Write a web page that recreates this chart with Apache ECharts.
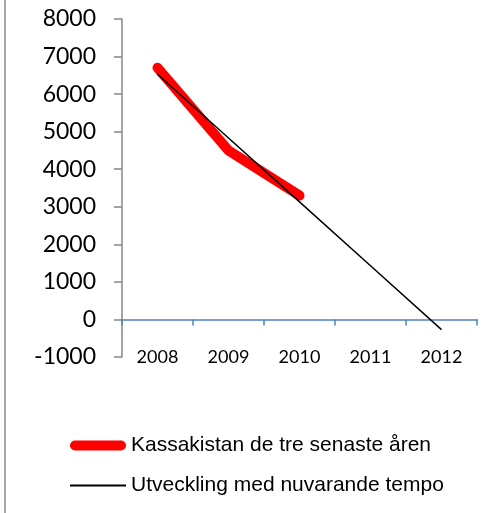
<!DOCTYPE html>
<html>
<head>
<meta charset="utf-8">
<script src="https://cdn.jsdelivr.net/npm/echarts@6/dist/echarts.min.js"></script>
<style>
  html, body { margin: 0; padding: 0; background: #fff; }
  #chart { width: 499px; height: 513px; position: relative; }
  #frame { position: absolute; left: 4px; top: 0; width: 2px; height: 513px; background: #a6a6a6; }
</style>
</head>
<body>
<div id="chart"></div>
<div id="frame"></div>
<script>
const years = ['2008', '2009', '2010', '2011', '2012']
// actual cash balance for the three latest years
const kassakistan = [6700, 4500, 3300, null, null]
// trend at current pace
const utveckling = [6530, 4830, 3130, 1430, -270]
const seriesNames = ['Kassakistan de tre senaste åren', 'Utveckling med nuvarande tempo']

const chart = echarts.init(document.getElementById('chart'))

const legendText = { fontFamily: 'Liberation Sans', fontSize: 21, color: '#000' }

const option = {
  animation: false,
  grid: { left: 122, right: 22, top: 19, bottom: 156 },
  legend: [
    {
      left: 65,
      top: 430,
      itemWidth: 56,
      itemHeight: 10,
      icon: 'path://M5,0H51A5,5,0,0,1,51,10H5A5,5,0,0,1,5,0Z',
      textStyle: legendText,
      data: [seriesNames[0]],
    },
    {
      left: 65,
      top: 470,
      itemWidth: 56,
      itemHeight: 2,
      icon: 'rect',
      textStyle: legendText,
      data: [seriesNames[1]],
    },
  ],
  xAxis: [
    {
      type: 'category',
      data: years,
      axisLine: { onZero: true, lineStyle: { color: '#4f81bd', width: 1.5 } },
      axisTick: { show: true, length: 6, lineStyle: { color: '#4f81bd', width: 1.5 } },
      axisLabel: { show: false },
    },
    {
      type: 'category',
      data: years,
      position: 'bottom',
      axisLine: { show: false, onZero: false },
      axisTick: { show: false },
      axisLabel: {
        margin: 0,
        verticalAlign: 'middle',
        fontFamily: 'Lato',
        fontSize: 18,
        color: '#000',
      },
    },
  ],
  yAxis: {
    type: 'value',
    min: -1000,
    max: 8000,
    interval: 1000,
    axisLine: { show: true, lineStyle: { color: '#868686', width: 1.5 } },
    axisTick: { show: true, length: 8, lineStyle: { color: '#868686', width: 1.5 } },
    axisLabel: {
      margin: 26,
      fontFamily: 'Lato',
      fontSize: 23,
      color: '#000',
      formatter: (v) => String(v),
    },
    splitLine: { show: false },
  },
  series: [
    {
      name: seriesNames[0],
      type: 'line',
      data: kassakistan,
      symbol: 'none',
      lineStyle: { color: '#ff0000', width: 10, cap: 'round', join: 'round' },
      itemStyle: { color: '#ff0000' },
      z: 2,
    },
    {
      name: seriesNames[1],
      type: 'line',
      data: utveckling,
      symbol: 'none',
      lineStyle: { color: '#000', width: 1.5 },
      itemStyle: { color: '#000' },
      z: 3,
    },
  ],
}

chart.setOption(option)
</script>
</body>
</html>
